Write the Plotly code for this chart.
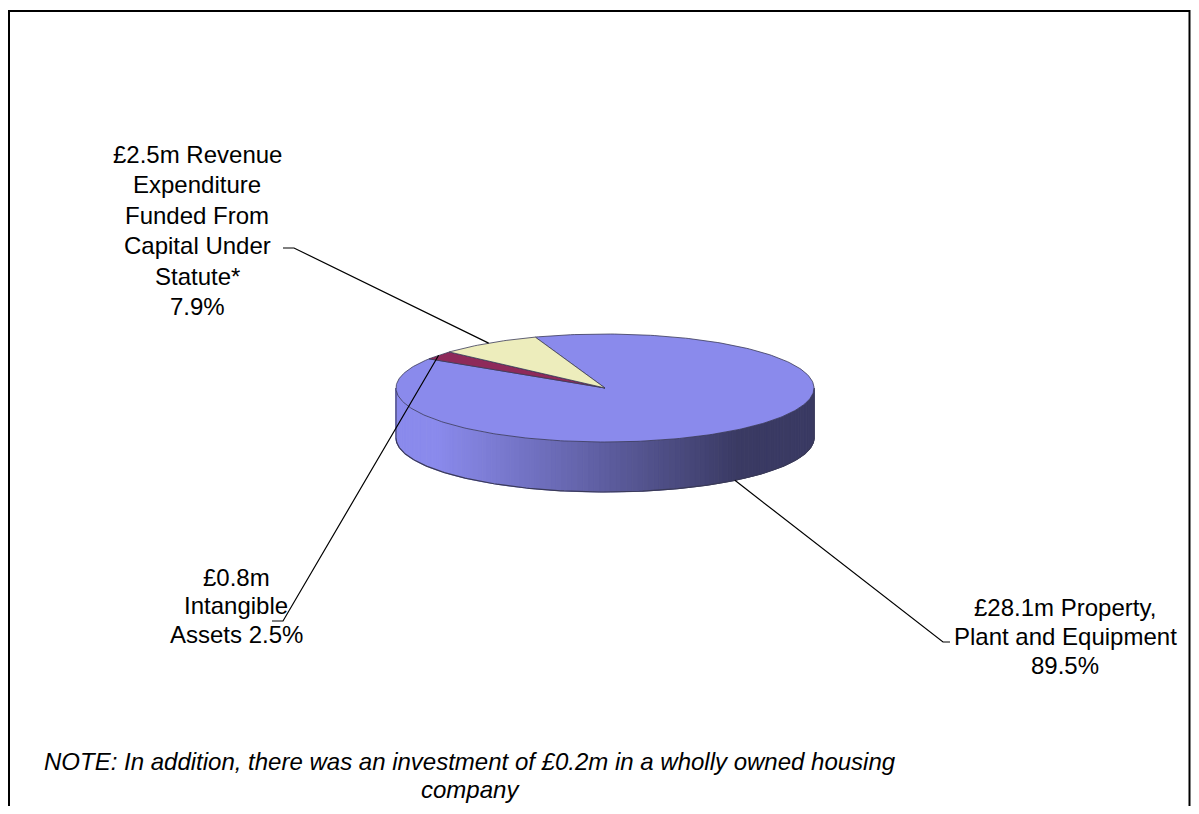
import numpy as np
import plotly.graph_objects as go

# ---------------- data ----------------
categories = ["Property, Plant and Equipment", "Intangible Assets",
              "Revenue Expenditure Funded From Capital Under Statute*"]
values_m = [28.1, 0.8, 2.5]
percent_labels = ["89.5%", "2.5%", "7.9%"]
label_lines = [
    ["£28.1m Property,", "Plant and Equipment", "89.5%"],
    ["£0.8m", "Intangible", "Assets 2.5%"],
    ["£2.5m Revenue", "Expenditure", "Funded From", "Capital Under", "Statute*", "7.9%"],
]
note_lines = ["NOTE: In addition, there was an investment of £0.2m in a wholly owned housing",
              "company"]

# ---------------- styling / geometry (page-pixel space) ----------------
OFF = 8                 # page body margin offset
W, H = 1199 - 2 * OFF, 814 - 2 * OFF
slice_colors = ["#8A8AEC", "#8E2A5A", "#EDEDBC"]
CX, CY = 605, 388
RX, RY = 209, 54
DEPTH = 50
START = 109.5          # math angle (deg) where the first slice starts; slices run clockwise
EDGE = "#3A3A58"
FONT = "Liberation Sans, Arial, sans-serif"
FS = 24

def pt(theta, dz=0.0):
    t = np.radians(theta)
    return CX + RX * np.cos(t), CY - RY * np.sin(t) + dz

def hex2rgb(h):
    h = h.lstrip("#")
    return np.array([int(h[i:i + 2], 16) for i in (0, 2, 4)], float)

total = sum(values_m)
spans = [v / total * 360 for v in values_m]
bounds = []
a = START
for s in spans:
    bounds.append((a, a - s))
    a -= s

fig = go.Figure()

def poly(xs, ys, fill, line_color=None, lw=0):
    fig.add_trace(go.Scatter(x=list(xs) + [xs[0]], y=list(ys) + [ys[0]], mode="lines",
                             fill="toself", fillcolor=fill,
                             line=dict(color=line_color or fill, width=lw),
                             hoverinfo="skip", showlegend=False))

def line(xs, ys, color=EDGE, lw=1):
    fig.add_trace(go.Scatter(x=xs, y=ys, mode="lines", line=dict(color=color, width=lw),
                             hoverinfo="skip", showlegend=False))

# ---- side wall (front half: angles -180..0) ----
NSTRIP = 120
edges = np.linspace(-180, 0, NSTRIP + 1)
for i in range(NSTRIP):
    t1, t2 = edges[i], edges[i + 1]
    tm = (t1 + t2) / 2
    col = slice_colors[0]
    for (a0, a1), c in zip(bounds, slice_colors):
        for k in (-360, 0, 360):
            if a1 <= tm + k <= a0:
                col = c
    light = hex2rgb(col)
    dark = light * 0.42
    xm = pt(tm)[0]
    f = np.clip(((xm - (CX - RX)) / (2 * RX) - 0.1) / 0.72, 0, 1)
    rgb = light * (1 - f) + dark * f
    c = "rgb(%d,%d,%d)" % tuple(rgb.round())
    x1, y1 = pt(t1); x2, y2 = pt(t2)
    x3, y3 = pt(t2, DEPTH); x4, y4 = pt(t1, DEPTH)
    poly([x1, x2, x3, x4], [y1, y2, y3, y4], c, c, 1)

arc = np.linspace(-180, 0, 200)
bx, by = zip(*[pt(t, DEPTH) for t in arc])
line(list(bx), list(by), EDGE, 1.2)
lx, ly = pt(180); line([lx, lx], [ly, ly + DEPTH], EDGE, 1)
rx, ry = pt(0); line([rx, rx], [ry, ry + DEPTH], EDGE, 1)

# ---- top faces ----
for (a0, a1), c in zip(bounds, slice_colors):
    ts = np.linspace(a0, a1, max(int(abs(a0 - a1)), 4))
    xs = [CX] + [pt(t)[0] for t in ts]
    ys = [CY] + [pt(t)[1] for t in ts]
    poly(xs, ys, c, EDGE, 0.8)

# ---- leader lines & labels ----
elbows = [((943, 642), (950, 642)),
          ((283, 621), (272, 621)),
          ((294, 248), (283, 248))]
text_centers = [(1065, [607, 636, 665]),
                (236, [577, 605, 634]),
                (197, [154, 184, 215, 245, 276, 306])]
for i, ((a0, a1), lines) in enumerate(zip(bounds, label_lines)):
    mid = (a0 + a1) / 2
    front = np.sin(np.radians(mid)) < 0
    ax_, ay_ = pt(mid, DEPTH if front else 0)
    (ex, ey), (hx, hy) = elbows[i]
    line([ax_, ex, hx], [ay_, ey, hy], "black", 1.2)
    cx, ys = text_centers[i]
    for t, yy in zip(lines, ys):
        fig.add_annotation(x=cx, y=yy, text=t, showarrow=False, xanchor="center",
                           yanchor="middle", font=dict(family=FONT, size=FS, color="black"))

for t, yy in zip(note_lines, [761, 789]):
    fig.add_annotation(x=470, y=yy, text="<i>%s</i>" % t, showarrow=False, xanchor="center",
                       yanchor="middle",
                       font=dict(family="Liberation Sans Narrow, Arial Narrow, " + FONT,
                                 size=FS, color="black"))

fig.add_shape(type="rect", x0=9, y0=11, x1=W + OFF - 1.5, y1=H + OFF + 30,
              line=dict(color="black", width=2), layer="above")

fig.update_layout(width=W, height=H, margin=dict(l=0, r=0, t=0, b=0),
                  paper_bgcolor="white", plot_bgcolor="white",
                  xaxis=dict(range=[OFF, W + OFF], visible=False, fixedrange=True),
                  yaxis=dict(range=[H + OFF, OFF], visible=False, fixedrange=True),
                  showlegend=False)
fig.write_html("out.html")
